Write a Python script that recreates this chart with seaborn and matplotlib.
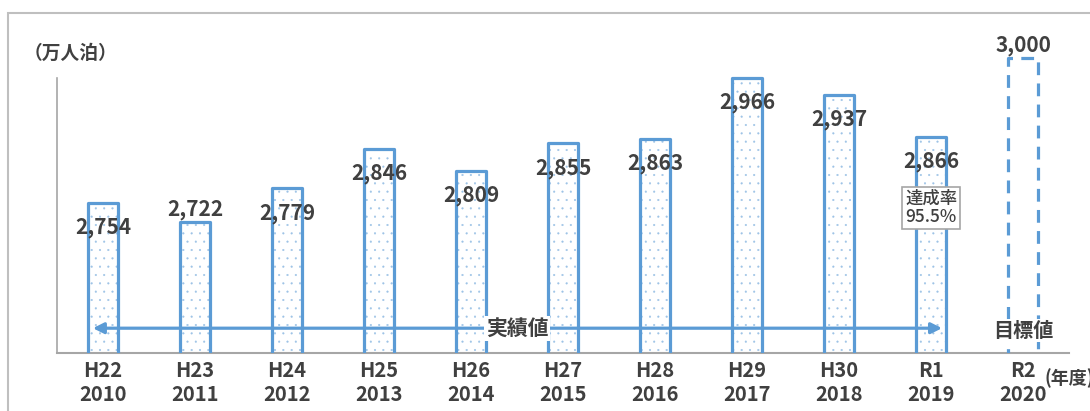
import matplotlib
matplotlib.use("Agg")
import matplotlib.pyplot as plt
from matplotlib.patches import Rectangle
import seaborn as sns
import pandas as pd

# Guest nights (10,000 person-nights) by fiscal year; last entry is the target
era_labels = ["H22", "H23", "H24", "H25", "H26", "H27", "H28", "H29", "H30", "R1", "R2"]
year_labels = ["2010", "2011", "2012", "2013", "2014", "2015", "2016", "2017", "2018", "2019", "2020"]
nights = [2754, 2722, 2779, 2846, 2809, 2855, 2863, 2966, 2937, 2866, 3000]
is_target = [False] * 10 + [True]
achievement_rate = "95.5%"

sns.set_theme(style="white")
plt.rcParams["font.family"] = ["Noto Sans CJK JP", "DejaVu Sans"]
plt.rcParams["hatch.linewidth"] = 0.3

TEXT = "#404040"
BLUE = "#5B9BD5"
DOT = "#9DC3E6"

df = pd.DataFrame({
    "cat": [f"{e}\n{y}" for e, y in zip(era_labels, year_labels)],
    "value": nights,
    "target": is_target,
})
actual = df[~df["target"]]

fig = plt.figure(figsize=(10.9, 4.11), dpi=100)
ax = fig.add_axes([57 / 1090, 1 - 353 / 411, (1069 - 57) / 1090, (353 - 40) / 411])

order = list(df["cat"])
# dotted fill layer for actual results
sns.barplot(data=actual, x="cat", y="value", order=order, width=0.33,
            color="white", edgecolor=DOT, linewidth=0, ax=ax, zorder=2)
for p in ax.patches:
    p.set_hatch("..")
n_fill = len(ax.patches)
# outline layer for all bars
sns.barplot(data=df, x="cat", y="value", order=order, width=0.33,
            fill=False, edgecolor=BLUE, linewidth=2.3, ax=ax, zorder=3)
outline = ax.patches[n_fill:]
for p, tgt in zip(outline, df["target"]):
    p.set_joinstyle("round")
    if tgt:
        p.set_linestyle((0, (4, 2.6)))

ax.set_ylim(2500, 3030)
ax.set_xlim(-0.5, len(df) - 0.5)
ax.set_xlabel("")
ax.set_ylabel("")
ax.set_yticks([])
ax.tick_params(axis="x", length=0, pad=5)
for lab in ax.get_xticklabels():
    lab.set_fontsize(14.5)
    lab.set_fontweight("bold")
    lab.set_color(TEXT)
    lab.set_linespacing(1.2)

for side in ["top", "right"]:
    ax.spines[side].set_visible(False)
ax.spines["bottom"].set_color("#A6A6A6")
ax.spines["bottom"].set_linewidth(1.5)
ax.spines["left"].set_color("#A6A6A6")
ax.spines["left"].set_linewidth(1.2)
ax.spines["left"].set_bounds(2500, max(nights[:-1]))
ax.patch.set_alpha(0)

# value labels: most sit just inside the bar top, a few above it
above = {1, 10}
for i, v in enumerate(nights):
    dy = 9 if i in above else -18
    ax.annotate(f"{v:,}", (i, v), xytext=(0, dy), textcoords="offset points",
                ha="center", va="center", fontsize=15, fontweight="bold",
                color=TEXT, zorder=6)

# achievement rate box on the latest result bar
ax.annotate(f"達成率\n{achievement_rate}", (9, nights[9]), xytext=(0, -51),
            textcoords="offset points", ha="center", va="center",
            fontsize=12.5, fontweight="medium", color=TEXT, linespacing=1.05, zorder=6,
            bbox=dict(boxstyle="square,pad=0.15", fc="white", ec="#A6A6A6", lw=1.2))

# span arrow for actual results
arrow_y = 2542
ax.annotate("", xy=(-0.11, arrow_y), xytext=(9.12, arrow_y),
            arrowprops=dict(arrowstyle="<|-|>", color=BLUE, lw=2.3,
                            mutation_scale=16, shrinkA=0, shrinkB=0), zorder=5)
ax.text(4.5, arrow_y, "実績値", ha="center", va="center", fontsize=15,
        fontweight="bold", color=TEXT, zorder=6,
        bbox=dict(boxstyle="square,pad=0.1", fc="white", ec="none"))
ax.text(10, arrow_y - 4, "目標値", ha="center", va="center", fontsize=14.5,
        fontweight="bold", color=TEXT, zorder=6,
        bbox=dict(boxstyle="square,pad=0.05", fc="white", ec="none"))

# unit labels
fig.text(24 / 1090, 1 - 53 / 411, "（万人泊）", ha="left", va="center",
         fontsize=13.5, fontweight="bold", color=TEXT)
fig.text(1044 / 1090, 1 - 378 / 411, "(年度)", ha="left", va="center",
         fontsize=13, fontweight="bold", color=TEXT)

# outer frame
fig.patches.append(Rectangle((8 / 1090, -0.1), 1.2, (411 - 13) / 411 + 0.1,
                             transform=fig.transFigure, fill=False,
                             ec="#BFBFBF", lw=1.5, zorder=0))

fig.savefig("out.png", dpi=100)
